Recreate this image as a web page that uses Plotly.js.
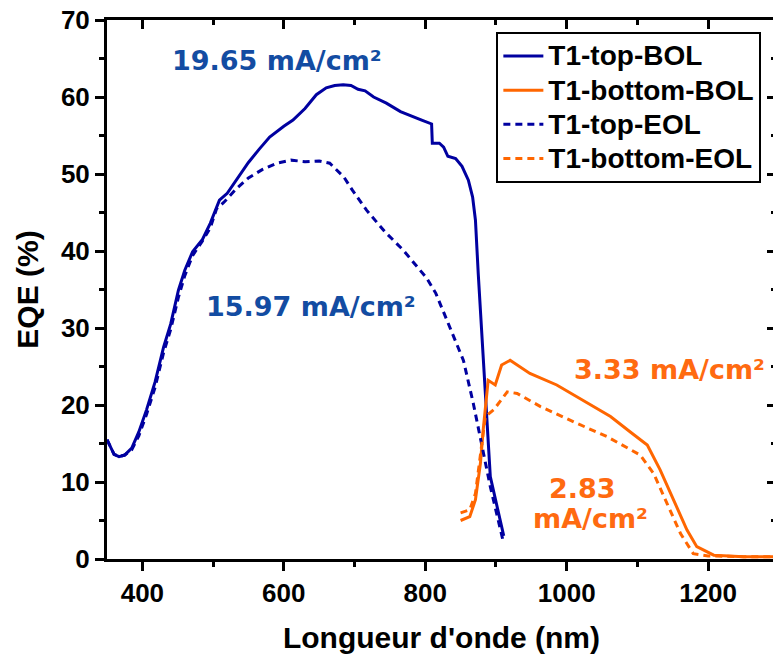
<!DOCTYPE html>
<html>
<head>
<meta charset="utf-8">
<script src="https://cdn.plot.ly/plotly-3.0.1.min.js"></script>
<style>
html,body{margin:0;padding:0;overflow:hidden;background:#fff;}
#chart{width:776px;height:659px;}
</style>
</head>
<body>
<div id="chart"></div>
<script>
// T1-top-BOL
const topBOL_x = [350,360,367,375,385,395,406,418,430,440,451,460,471,485,496,509,520,533,550,565,580,600,613,630,646,660,672,684,695,705,715,727,745,765,780,795,809,810,820,826,832,843,852,861,867,871,875,892,911];
const topBOL_y = [15.5,13.6,13.3,13.5,14.4,16.5,19.4,23,27.5,30.5,34.9,37.5,39.9,41.5,43.6,46.6,47.5,49.2,51.5,53.2,54.8,56.2,57,58.5,60.3,61.2,61.5,61.6,61.5,61,60.8,60,59.2,58.1,57.5,57,56.5,54,54,53.5,52.3,52,51,49.2,47,44,37,10.7,3];
// T1-top-EOL
const topEOL_x = [350,360,367,375,385,395,406,418,430,440,451,460,471,485,496,505,515,533,550,570,590,610,630,650,665,675,685,697,717,743,769,790,802,815,826,840,854,868,880,892,911];
const topEOL_y = [15.5,13.6,13.3,13.5,14.2,16,18.8,22.3,26.8,29.8,34,36.8,39.4,41.3,43,45.5,46.3,48.1,49.5,50.6,51.4,51.8,51.6,51.7,51.4,50.5,49.6,47.9,45.3,42.5,40.1,37.8,36.5,34.5,32,29,25.8,20.2,15,9.4,2];
// T1-bottom-BOL
const botBOL_x = [850,863,871,878,882,889,899,908,920,934,948,986,1033,1062,1090,1114,1132,1151,1170,1184,1208,1250,1296];
const botBOL_y = [5.0,5.5,7.7,12.4,16.8,23.2,22.6,25.2,25.8,25,24.1,22.6,20,18.5,16.5,14.8,11.6,7.7,3.8,1.6,0.5,0.3,0.3];
// T1-bottom-EOL
const botEOL_x = [850,863,871,878,885,897,916,930,963,1010,1057,1104,1123,1142,1161,1179,1200,1250,1296];
const botEOL_y = [6.0,6.4,8.5,13.3,18.5,19.4,21.7,21.5,19.8,17.8,15.9,13.5,11.1,7.2,3.3,0.7,0.4,0.3,0.3];

const seriesNames = ['T1-top-BOL','T1-bottom-BOL','T1-top-EOL','T1-bottom-EOL'];
const xTitle = "Longueur d'onde (nm)";
const yTitle = 'EQE (%)';
const annTexts = ['19.65 mA/cm²','15.97 mA/cm²','3.33 mA/cm²','2.83','mA/cm²'];

const BLUE = '#0000a0', ORANGE = '#ff6600';
const ANN_BLUE = '#134ca2', ANN_OR = '#ff6a10';
const DASH = '7px,5px';
const legName = s => '<span style="font-size:28px">' + s + '</span>';

const traces = [
  {x: topBOL_x, y: topBOL_y, name: legName(seriesNames[0]), mode:'lines', line:{color:BLUE, width:3}},
  {x: botBOL_x, y: botBOL_y, name: legName(seriesNames[1]), mode:'lines', line:{color:ORANGE, width:3}},
  {x: topEOL_x, y: topEOL_y, name: legName(seriesNames[2]), mode:'lines', line:{color:BLUE, width:3, dash:DASH}},
  {x: botEOL_x, y: botEOL_y, name: legName(seriesNames[3]), mode:'lines', line:{color:ORANGE, width:3, dash:DASH}},
  {x: [], y: [], xaxis:'x2', yaxis:'y2', showlegend:false, hoverinfo:'skip'}
];

const FONT = 'Liberation Sans, Arial, sans-serif';
const ANNFONT = 'DejaVu Sans, Verdana, sans-serif';
const XR = [350, 1296];
const ANNSIZE = 27;

const layout = {
  width: 776, height: 659,
  margin: {l:107, r:0, t:20, b:100},
  paper_bgcolor:'#fff', plot_bgcolor:'#fff',
  font: {family: FONT, size: 26, color:'#000', weight:'bold'},
  showlegend: true,
  legend: {x:0.582, y:0.978, xanchor:'left', yanchor:'top', bgcolor:'#fff', bordercolor:'#000', borderwidth:2,
           font:{family:FONT, size:24, color:'#000', weight:'bold'}, itemwidth:40, tracegroupgap:0},
  xaxis: {range: XR, showline:true, linewidth:3, linecolor:'#000', mirror:false,
          ticks:'outside', ticklen:9, tickwidth:3, tickcolor:'#000', tick0:0, dtick:200,
          minor:{ticks:'outside', ticklen:5, tickwidth:3, tickcolor:'#000', dtick:100, tick0:0},
          showgrid:false, zeroline:false,
          tickfont:{family:FONT, size:26, weight:'bold'},
          title:{text: xTitle, font:{family:FONT, size:30, weight:'bold'}, standoff:20}},
  yaxis: {range:[0,70], showline:true, linewidth:3, linecolor:'#000', mirror:false,
          ticks:'outside', ticklen:9, tickwidth:3, tickcolor:'#000', tick0:0, dtick:10,
          minor:{ticks:'outside', ticklen:5, tickwidth:3, tickcolor:'#000', dtick:5, tick0:0},
          showgrid:false, zeroline:false,
          tickfont:{family:FONT, size:26, weight:'bold'},
          title:{text: yTitle, font:{family:FONT, size:30, weight:'bold'}, standoff:14}},
  xaxis2: {range: XR, overlaying:'x', side:'top', anchor:'y2', showline:true, linewidth:3, linecolor:'#000',
           ticks:'inside', ticklen:9, tickwidth:3, tickcolor:'#000', tick0:0, dtick:200,
           minor:{ticks:'inside', ticklen:5, tickwidth:3, tickcolor:'#000', dtick:100, tick0:0},
           showticklabels:false, showgrid:false, zeroline:false},
  yaxis2: {range:[0,70], overlaying:'y', side:'right', anchor:'x2', showline:true, linewidth:3, linecolor:'#000',
           ticks:'inside', ticklen:9, tickwidth:3, tickcolor:'#000', tick0:0, dtick:10,
           minor:{ticks:'inside', ticklen:5, tickwidth:3, tickcolor:'#000', dtick:5, tick0:0},
           showticklabels:false, showgrid:false, zeroline:false},
  annotations: [
    {x:590, y:64.7, xref:'x', yref:'y', text:annTexts[0], showarrow:false, font:{family:ANNFONT, size:ANNSIZE, color:ANN_BLUE, weight:'bold'}},
    {x:638, y:32.8, xref:'x', yref:'y', text:annTexts[1], showarrow:false, font:{family:ANNFONT, size:ANNSIZE, color:ANN_BLUE, weight:'bold'}},
    {x:1146, y:24.6, xref:'x', yref:'y', text:annTexts[2], showarrow:false, font:{family:ANNFONT, size:ANNSIZE, color:ANN_OR, weight:'bold'}},
    {x:1023, y:9.2, xref:'x', yref:'y', text:annTexts[3], showarrow:false, font:{family:ANNFONT, size:ANNSIZE, color:ANN_OR, weight:'bold'}},
    {x:1033, y:5.3, xref:'x', yref:'y', text:annTexts[4], showarrow:false, font:{family:ANNFONT, size:ANNSIZE, color:ANN_OR, weight:'bold'}}
  ]
};

Plotly.newPlot('chart', traces, layout, {displayModeBar:false, staticPlot:true});
</script>
</body>
</html>
